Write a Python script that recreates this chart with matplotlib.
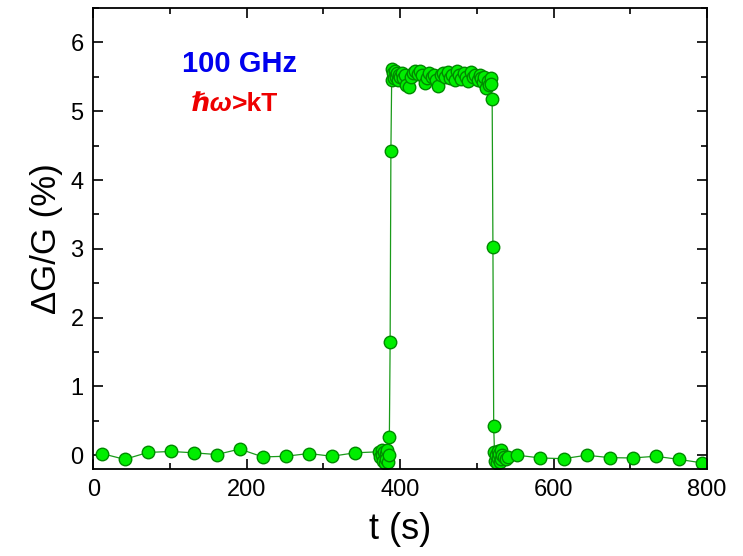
import matplotlib
matplotlib.use("Agg")
import matplotlib.pyplot as plt
from matplotlib.ticker import MultipleLocator

plt.rcParams['font.family'] = ['Liberation Sans', 'DejaVu Sans']

# time (s) and dG/G (%)
t_before = [11, 41, 71, 101, 131, 161, 191, 221, 251, 281, 311, 341,
            372, 374, 376, 377, 378, 379, 380, 381, 382, 383, 384, 385]
g_before = [0.025, -0.06, 0.04, 0.055, 0.035, 0.01, 0.09, -0.025, -0.015, 0.025, -0.015, 0.035,
            0.05, -0.03, 0.08, 0.0, -0.08, 0.04, -0.12, 0.02, -0.05, 0.07, -0.1, 0.0]

t_rise = [386, 387, 388]
g_rise = [0.27, 1.65, 4.42]

t_top = [389, 390, 391, 392, 393, 394, 395, 396, 397, 398, 400, 402, 404, 406, 408, 411,
         414, 417, 420, 423, 426, 429, 432, 435, 438, 441, 444, 447, 450, 453, 456, 459,
         462, 465, 468, 471, 474, 477, 480, 483, 486, 489, 492, 495, 498, 501, 504, 506,
         508, 510, 512, 514, 516, 518, 519]
g_top = [5.45, 5.62, 5.55, 5.48, 5.58, 5.52, 5.5, 5.56, 5.46, 5.53, 5.5, 5.55, 5.48, 5.52, 5.38, 5.35,
         5.5, 5.56, 5.58, 5.54, 5.59, 5.52, 5.41, 5.48, 5.55, 5.5, 5.53, 5.45, 5.36, 5.52, 5.55, 5.5,
         5.57, 5.48, 5.53, 5.45, 5.58, 5.52, 5.47, 5.55, 5.5, 5.44, 5.57, 5.5, 5.52, 5.46, 5.53, 5.49,
         5.42, 5.5, 5.34, 5.44, 5.38, 5.48, 5.39]

t_fall = [520, 521, 522]
g_fall = [5.18, 3.03, 0.42]

t_after = [523, 524, 525, 526, 527, 528, 529, 530, 531, 532, 533, 535, 538, 541,
           553, 583, 613, 643, 673, 703, 733, 763, 793]
g_after = [0.05, -0.08, 0.0, -0.12, 0.06, -0.04, 0.02, -0.1, 0.08, -0.06, 0.01, -0.03, -0.05, -0.02,
           0.0, -0.04, -0.05, 0.0, -0.035, -0.04, -0.015, -0.06, -0.11]

t = t_before + t_rise + t_top + t_fall + t_after
g = g_before + g_rise + g_top + g_fall + g_after

fig = plt.figure(figsize=(7.43, 5.56), dpi=100)
ax = fig.add_axes([0.1255, 0.1565, 0.826, 0.829])

ax.plot(t, g, '-', color='#1a9a1a', lw=0.9, zorder=1)
ax.plot(t, g, 'o', ms=9, mfc='#00ee00', mec='#008a00', mew=1.0, ls='none', zorder=2)

ax.set_xlim(0, 800)
ax.set_ylim(-0.2, 6.5)
ax.xaxis.set_major_locator(MultipleLocator(200))
ax.xaxis.set_minor_locator(MultipleLocator(100))
ax.yaxis.set_major_locator(MultipleLocator(1))
ax.yaxis.set_minor_locator(MultipleLocator(0.5))
ax.tick_params(which='both', direction='in', top=True, right=True, width=1.2)
ax.tick_params(which='major', length=7, labelsize=17, pad=7)
ax.tick_params(which='minor', length=4)
for s in ax.spines.values():
    s.set_linewidth(1.3)

ax.set_xlabel("t (s)", fontsize=26, labelpad=8)
ax.set_ylabel("ΔG/G (%)", fontsize=25, labelpad=5)

ax.text(190, 5.69, "100 GHz", color='#0000ee', fontsize=21, fontweight='bold',
        ha='center', va='center')
ax.text(181, 5.1, "ℏω", color='#ee0000', fontsize=19, fontweight='bold',
        fontstyle='italic', ha='right', va='center')
ax.text(181, 5.1, ">kT", color='#ee0000', fontsize=19, fontweight='bold',
        ha='left', va='center')

plt.savefig("out.png", dpi=100)
